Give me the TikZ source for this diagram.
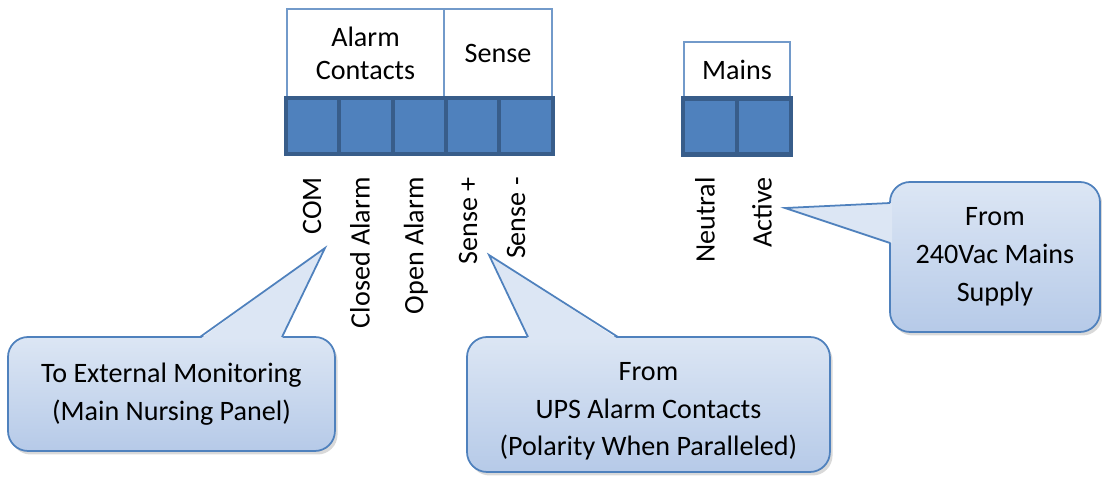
\documentclass[tikz,border=0pt]{standalone}
\usepackage{fontspec}
\setmainfont{Carlito}
\usetikzlibrary{positioning}
\usetikzlibrary{calc}
\usetikzlibrary{shadows}
\definecolor{cellblue}{RGB}{79,129,189}
\definecolor{celledge}{RGB}{56,93,138}
\definecolor{calltop}{RGB}{220,230,244}
\definecolor{callbottom}{RGB}{182,202,232}
\tikzset{
	cell/.style={draw=celledge, fill=cellblue, line width=2.3pt, minimum width=1.068cm, minimum height=1.12cm, outer sep=0pt},
	labelbox/.style={draw=cellblue!80, fill=white, line width=0.6pt, align=center, outer sep=0pt},
	pinlabel/.style={rotate=90, anchor=east, inner sep=0pt},
	callbox/.style={draw=cellblue, line width=1pt, rounded corners=0.4cm, top color=calltop, bottom color=callbottom, align=center, anchor=north west, outer sep=0pt, font=\fontsize{16}{21.6}\selectfont, drop shadow={shadow xshift=1.5pt, shadow yshift=-2pt, opacity=0.3}},
	pointer/.style={draw=cellblue, line width=1pt, line join=miter},
}

\begin{document}
\begin{tikzpicture}[x=0.02cm, y=-0.02cm, font=\fontsize{16}{18.8}\selectfont]
	\useasboundingbox (0,0) rectangle (1102,477);
	
	% label boxes.....................
	\node [labelbox, minimum width=3.14cm, minimum height=1.78cm] (alarmbox) at (365.5,53.5) {Alarm\\Contacts};
	\node [labelbox, minimum width=2.16cm, minimum height=1.78cm] (sensebox) at (498,53.5) {Sense};
	\node [labelbox, minimum width=2.12cm, minimum height=1.12cm] (mainsbox) at (737,70) {Mains};
	
	% terminal blocks.....................
	\foreach \n/\x in {1/313, 2/366, 3/420, 4/473, 5/526}
		\node [cell] (term\n) at (\x,126) {};
	\node [cell, minimum width=1.08cm] (mainsN) at (710,126.5) {};
	\node [cell, minimum width=1.08cm] (mainsA) at (764,126.5) {};
	
	% terminal labels.....................
	\node [pinlabel] (lblcom) at (312,177) {COM};
	\node [pinlabel] (lblclosed) at (360,177) {Closed Alarm};
	\node [pinlabel] (lblopen) at (416,177) {Open Alarm};
	\node [pinlabel] (lblsplus) at (468,177) {Sense +};
	\node [pinlabel] (lblsminus) at (516,177) {Sense -};
	\node [pinlabel] (lblneutral) at (705,177) {Neutral};
	\node [pinlabel] (lblactive) at (762,177) {Active};
	
	% callouts..............................
	\node [callbox, minimum width=6.54cm, minimum height=2.28cm] (callmon) at (8,337) {To External Monitoring\\(Main Nursing Panel)};
	\node [callbox, minimum width=7.26cm, minimum height=2.7cm] (callups) at (467,337) {\rule{0pt}{18pt}From\\UPS Alarm Contacts\\(Polarity When Paralleled)};
	\node [callbox, minimum width=4.2cm, minimum height=3cm] (callmains) at (890,182) {From\\240Vac Mains\\Supply};
	
	% pointer tips..........................
	\coordinate (tipmon) at (325,248);
	\coordinate (tipups) at (489,255);
	\coordinate (tipmains) at (785,208);
	
	% pointers..............................
	\fill [calltop] ($(callmon.north west)+(192,2)$) -- (tipmon) -- ($(callmon.north west)+(274,2)$) -- cycle;
	\draw [pointer] ($(callmon.north west)+(192,0)$) -- (tipmon) -- ($(callmon.north west)+(274,0)$);
	
	\fill [calltop] ($(callups.north west)+(61,2)$) -- (tipups) -- ($(callups.north west)+(151,2)$) -- cycle;
	\draw [pointer] ($(callups.north west)+(61,0)$) -- (tipups) -- ($(callups.north west)+(151,0)$);
	
	\fill [calltop] ($(callmains.north west)+(2,21)$) -- (tipmains) -- ($(callmains.north west)+(2,61)$) -- cycle;
	\draw [pointer] ($(callmains.north west)+(0,21)$) -- (tipmains) -- ($(callmains.north west)+(0,61)$);
\end{tikzpicture}
\end{document}
